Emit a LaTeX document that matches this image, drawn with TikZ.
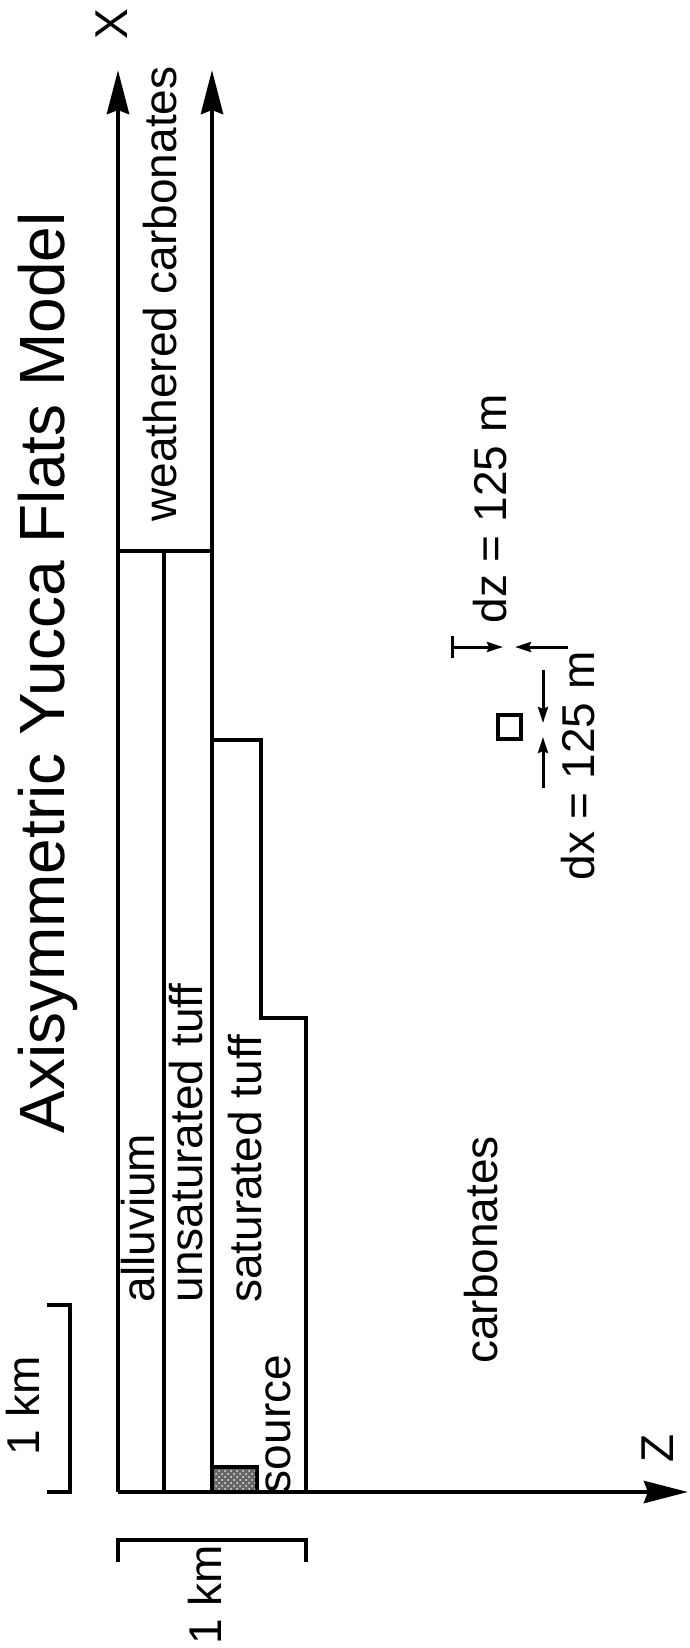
\documentclass[tikz,border=0pt]{standalone}
\usepackage{fontspec}
\setmainfont{Liberation Sans}
\usetikzlibrary{arrows.meta,patterns}

\begin{document}
\begin{tikzpicture}[x=0.5pt,y=-0.5pt,
  line width=2.4pt,
  layer label/.style={rotate=90,font=\fontsize{23}{26}\selectfont,inner sep=0pt},
  title label/.style={rotate=90,font=\fontsize{32}{36}\selectfont,inner sep=0pt},
  axis arrow/.style={-{Stealth[length=22pt,width=11pt,inset=2pt]}},
  dim arrow/.style={line width=1.5pt,-{Stealth[length=8pt,width=5pt,inset=1pt]}}]
  \useasboundingbox (0,0) rectangle (690,1648);

  % corners of the layers
  \coordinate (o) at (118,1492);
  \coordinate (xtop) at (118,70);
  \coordinate (wtop) at (212,70);
  \coordinate (wbase) at (212,1492);
  \coordinate (ztip) at (688,1492);

  % axes
  \draw[axis arrow] (o) -- (xtop);
  \draw[axis arrow] (wbase) -- (wtop);
  \draw[axis arrow] (o) -- (ztip);
  \node[layer label] (xlab) at (112,24) {X};
  \node[layer label] (zlab) at (658,1448) {Z};

  % layer boundaries
  \draw (118,551) -- (212,551);
  \draw (164,551) -- (164,1492);
  \draw (212,740) -- (261,740) -- (261,1018) -- (306,1018) -- (306,1492);

  % source
  \draw[fill=black!60,line width=1.8pt] (212,1467) rectangle (257,1492);
  \fill[pattern=crosshatch dots,pattern color=white!80!gray] (214,1469) rectangle (255,1490);

  % labels
  \node[title label] (title) at (48,673) {Axisymmetric Yucca Flats Model};
  \node[layer label] (weath) at (160,294) {weathered carbonates};
  \node[layer label] (alluv) at (138,1218) {alluvium};
  \node[layer label] (unsat) at (186,1143) {unsaturated tuff};
  \node[layer label] (sat) at (245,1169) {saturated tuff};
  \node[layer label] (src) at (278,1424) {source};
  \node[layer label] (carb) at (481,1250) {carbonates};

  % scale bars
  \draw (47,1305) -- (70,1305) -- (70,1492) -- (47,1492);
  \node[layer label] (kmv) at (23,1406) {1 km};
  \draw (118,1562) -- (118,1540) -- (306,1540) -- (306,1562);
  \node[layer label] (kmh) at (205,1595) {1 km};

  % grid cell
  \draw[line width=1.6pt] (498,715) rectangle (521,739);
  \node[layer label] (dzlab) at (490,509) {dz = 125 m};
  \node[layer label] (dxlab) at (578,766) {dx = 125 m};
  \draw[dim arrow] (452,647) -- (503,647);
  \draw[dim arrow] (568,647) -- (515,647);
  \draw[line width=1.5pt] (452,636) -- (452,658);
  \draw[dim arrow] (543,670) -- (543,723);
  \draw[dim arrow] (543,788) -- (543,737);
\end{tikzpicture}
\end{document}
